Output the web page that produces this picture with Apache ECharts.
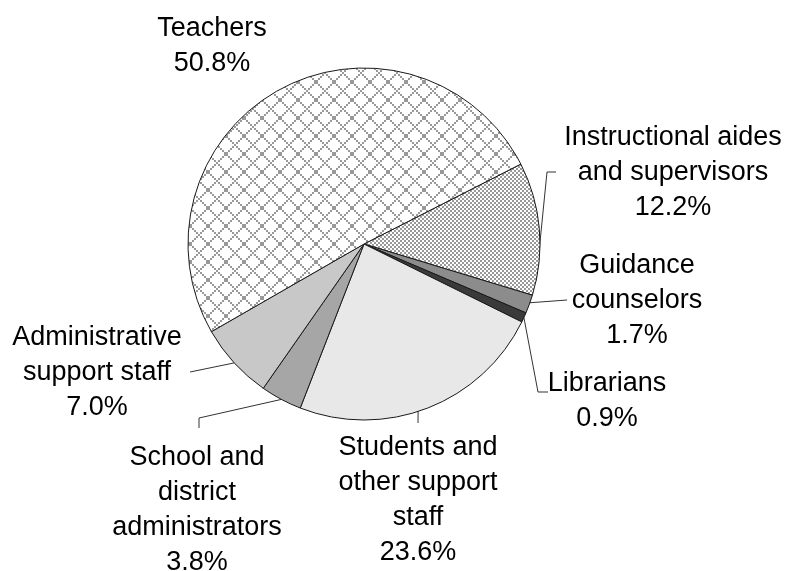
<!DOCTYPE html>
<html>
<head>
<meta charset="utf-8">
<script src="https://cdn.jsdelivr.net/npm/echarts@6/dist/echarts.min.js"></script>
<style>
html,body{margin:0;padding:0;background:#fff;}
#chart{width:787px;height:571px;}
</style>
</head>
<body>
<div id="chart"></div>
<script>
// ---- data ----
const categories = [
  'Instructional aides\nand supervisors',
  'Guidance\ncounselors',
  'Librarians',
  'Students and\nother support\nstaff',
  'School and\ndistrict\nadministrators',
  'Administrative\nsupport staff',
  'Teachers'
];
const shares = [12.2, 1.7, 0.9, 23.6, 3.8, 7.0, 50.8];

// ---- layout / style ----
const CX = 364, CY = 244, R = 176;
function edgeAt(deg) {
  const a = deg * Math.PI / 180;
  return [CX + R * Math.cos(a), CY - R * Math.sin(a)];
}
const labelPlace = [
  { x: 673, y: 173, line: [edgeAt(-12), [547, 172], [556, 172]] },
  { x: 637, y: 301, line: [edgeAt(-19.5), [567, 300]] },
  { x: 607, y: 401, line: [edgeAt(-24.7), [538, 392], [548, 392]] },
  { x: 418, y: 500, line: [edgeAt(-72.1), [418, 423]] },
  { x: 197, y: 510, line: [edgeAt(-118), [199, 418], [199, 428]] },
  { x: 97, y: 373, line: [edgeAt(-137.5), [190, 372]] },
  { x: 212, y: 46, line: null }
];

function makePattern(size, painter) {
  const c = document.createElement('canvas');
  c.width = size; c.height = size;
  const ctx = c.getContext('2d');
  ctx.fillStyle = '#ffffff';
  ctx.fillRect(0, 0, size, size);
  painter(ctx);
  return { image: c, repeat: 'repeat' };
}
// diamond lattice (teachers)
const diamondPat = makePattern(18, ctx => {
  ctx.fillStyle = '#999999';
  const n = 9;
  for (let bx = 0; bx < n; bx++) {
    for (let by = 0; by < n; by++) {
      if ((bx + by) % n === 0 || ((bx - by) % n + n) % n === 0) {
        ctx.fillRect(bx * 2, by * 2, 2, 2);
      }
    }
  }
});
// fine checker (aides)
const checkPat = makePattern(4, ctx => {
  ctx.fillStyle = '#999999';
  ctx.fillRect(0, 0, 2, 2);
  ctx.fillRect(2, 2, 2, 2);
});

const fills = [checkPat, '#8c8c8c', '#3a3a3a', '#e8e8e8', '#a6a6a6', '#c8c8c8', diamondPat];

const chart = echarts.init(document.getElementById('chart'), null, { renderer: 'canvas' });
chart.setOption({
  backgroundColor: '#ffffff',
  animation: false,
  series: [{
    type: 'pie',
    center: [CX, CY],
    radius: R,
    startAngle: 27,
    clockwise: true,
    avoidLabelOverlap: false,
    data: categories.map((c, i) => ({
      name: c,
      value: shares[i],
      itemStyle: { color: fills[i] },
      labelLine: { show: !!labelPlace[i].line }
    })),
    itemStyle: { borderColor: '#1a1a1a', borderWidth: 1 },
    label: {
      show: true,
      position: 'outside',
      fontFamily: 'Liberation Sans, Arial, sans-serif',
      fontSize: 27,
      lineHeight: 35,
      color: '#000',
      align: 'center',
      formatter: p => p.name + '\n' + p.value.toFixed(1) + '%'
    },
    labelLine: {
      show: true,
      smooth: false,
      length: 10,
      length2: 10,
      lineStyle: { color: '#333', width: 1 }
    },
    labelLayout: function (params) {
      const lp = labelPlace[params.dataIndex];
      const res = { x: lp.x, y: lp.y, align: 'center', verticalAlign: 'middle' };
      if (lp.line) res.labelLinePoints = lp.line;
      return res;
    },
    emphasis: { disabled: true }
  }]
});
</script>
</body>
</html>
